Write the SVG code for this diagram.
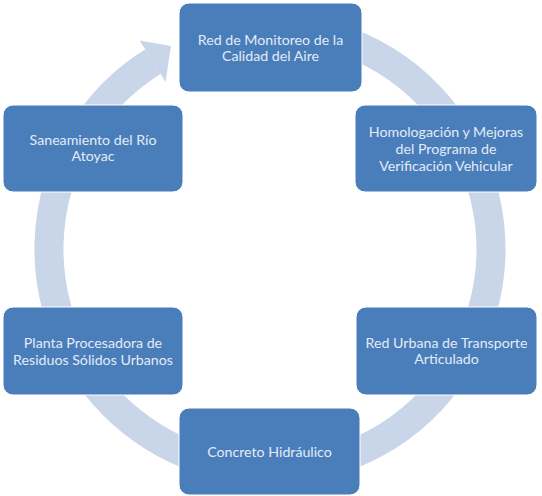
<svg xmlns="http://www.w3.org/2000/svg" width="542" height="496" viewBox="0 0 542 496">
<style>
.node rect{fill:#4a7ebb;stroke:#ffffff;stroke-width:1}
.node text{fill:#e3ebf6;font-family:Lato,"Open Sans",sans-serif;font-size:14.2px;text-anchor:middle}
.ring{fill:none;stroke:#c9d5e8;stroke-width:29}
.head{fill:#c9d5e8}
</style>
<rect width="542" height="496" fill="#ffffff"/>
<g id="connectors">
<path class="ring" d="M231.6,31.4 A221,221 0 1 1 152.9,61.6"/>
<polygon class="head" points="165.6,81.9 139.6,40.4 170.9,45.9"/>
</g>
<g id="node-red-monitoreo" class="node">
<rect x="179" y="3" width="183" height="89" rx="10"/>
<text x="270.5" y="45">Red de Monitoreo de la</text>
<text x="270.5" y="61">Calidad del Aire</text>
</g>
<g id="node-homologacion" class="node">
<rect x="355" y="105" width="182" height="87" rx="10"/>
<text x="446" y="137">Homologación y Mejoras</text>
<text x="446" y="154">del Programa de</text>
<text x="446" y="171">Verificación Vehicular</text>
</g>
<g id="node-red-urbana" class="node">
<rect x="356" y="307" width="181" height="88" rx="10"/>
<text x="446.5" y="348">Red Urbana de Transporte</text>
<text x="446.5" y="364">Articulado</text>
</g>
<g id="node-concreto" class="node">
<rect x="179" y="408" width="181" height="87" rx="10"/>
<text x="269.5" y="457">Concreto Hidráulico</text>
</g>
<g id="node-planta" class="node">
<rect x="3" y="307" width="180" height="88" rx="10"/>
<text x="93" y="348">Planta Procesadora de</text>
<text x="93" y="365">Residuos Sólidos Urbanos</text>
</g>
<g id="node-saneamiento" class="node">
<rect x="3" y="105" width="180" height="87" rx="10"/>
<text x="93" y="145">Saneamiento del Río</text>
<text x="93" y="161">Atoyac</text>
</g>
</svg>
